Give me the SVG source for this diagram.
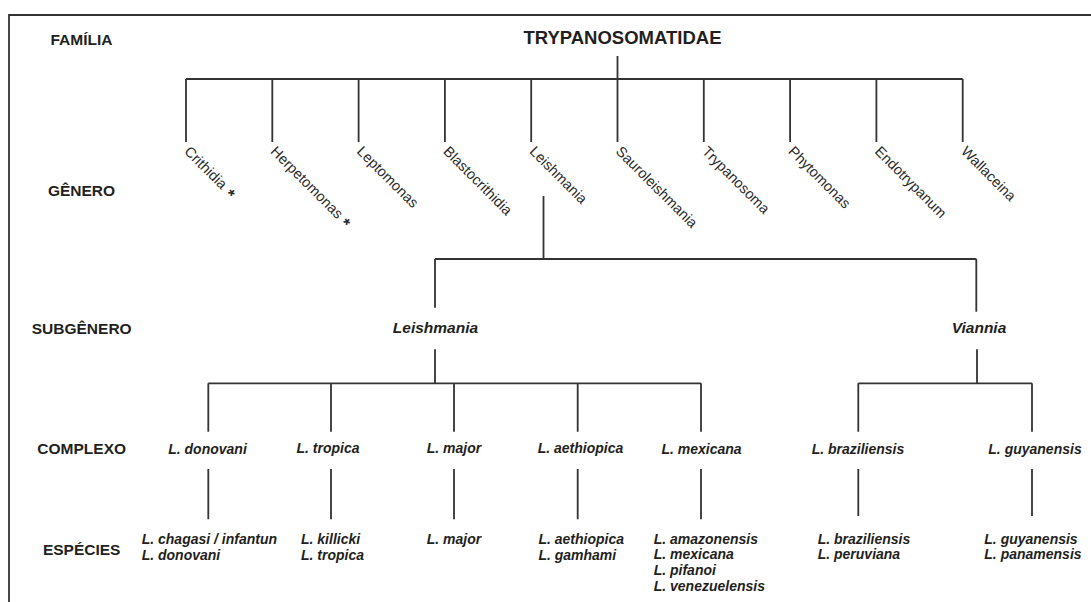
<svg xmlns="http://www.w3.org/2000/svg" width="1091" height="602" viewBox="0 0 1091 602">
<style>
.ln{stroke:#333;stroke-width:1.8;fill:none;stroke-linecap:butt}
.rank{font-family:"Liberation Sans",Arial,sans-serif;font-weight:bold;font-size:15.5px;fill:#231f20;text-anchor:middle}
.fam{font-family:"Liberation Sans",Arial,sans-serif;font-weight:bold;font-size:18.5px;fill:#231f20;text-anchor:middle}
.gen{font-family:"Liberation Sans",Arial,sans-serif;font-size:14.5px;fill:#2a2a2a}
.ast{font-size:17px;font-weight:bold}
.sub{font-family:"Liberation Sans",Arial,sans-serif;font-weight:bold;font-style:italic;font-size:15.5px;fill:#231f20;text-anchor:middle}
.cx{font-family:"Liberation Sans",Arial,sans-serif;font-weight:bold;font-style:italic;font-size:14px;fill:#231f20;text-anchor:middle}
.sp{font-family:"Liberation Sans",Arial,sans-serif;font-weight:bold;font-style:italic;font-size:14px;fill:#231f20}
</style>
<rect width="1091" height="602" fill="#fff"/>
<path class="ln" d="M9,602 V15 H1091" stroke-width="1.8"/>

<g id="ranks">
<text class="rank" x="81.5" y="45">FAMÍLIA</text>
<text class="rank" x="81.5" y="196">GÊNERO</text>
<text class="rank" x="81.7" y="334">SUBGÊNERO</text>
<text class="rank" x="81.7" y="454">COMPLEXO</text>
<text class="rank" x="81.7" y="555">ESPÉCIES</text>
</g>

<g id="connectors">
<path class="ln" d="M617.5,56 V79 M186,79 H962.7"/>
<path class="ln" d="M186,79 V142 M272.3,79 V142 M358.6,79 V142 M444.9,79 V142 M531.2,79 V142 M617.5,79 V142 M703.8,79 V142 M790.1,79 V142 M876.4,79 V142 M962.7,79 V142"/>
<path class="ln" d="M543.5,196 V259 M435,259 H976.3 M435,259 V307.7 M976.3,259 V311.7"/>
<path class="ln" d="M435,349.3 V383.3 M208.3,383.3 H701 M208.3,383.3 V431.7 M331,383.3 V431.7 M454,383.3 V431.7 M577.7,383.3 V431.7 M701,383.3 V431.7"/>
<path class="ln" d="M977,349.3 V383.3 M858.3,383.3 H1032 M858.3,383.3 V431.7 M1032,383.3 V431.7"/>
<path class="ln" d="M208.3,469 V519.3 M331,469 V519.3 M454,469 V519.3 M577.7,469 V519.3 M701,469 V519.3 M858.3,469 V516 M1032,469 V516"/>
</g>

<g id="familia"><text class="fam" x="622.5" y="44">TRYPANOSOMATIDAE</text></g>

<g id="generos">
<text class="gen" transform="translate(183.5,152.3) rotate(45)">Crithidia <tspan class="ast" dx="2" dy="3">*</tspan></text>
<text class="gen" transform="translate(269.8,152.3) rotate(45)">Herpetomonas <tspan class="ast" dx="1" dy="3">*</tspan></text>
<text class="gen" transform="translate(356.1,152.3) rotate(45)">Leptomonas</text>
<text class="gen" transform="translate(442.4,152.3) rotate(45)">Blastocrithidia</text>
<text class="gen" transform="translate(528.7,152.3) rotate(45)">Leishmania</text>
<text class="gen" transform="translate(615,152.3) rotate(45)">Sauroleishmania</text>
<text class="gen" transform="translate(701.3,152.3) rotate(45)">Trypanosoma</text>
<text class="gen" transform="translate(787.6,152.3) rotate(45)">Phytomonas</text>
<text class="gen" transform="translate(873.9,152.3) rotate(45)">Endotrypanum</text>
<text class="gen" transform="translate(960.2,152.3) rotate(45)">Wallaceina</text>
</g>

<g id="subgenero-leishmania"><text class="sub" x="435.5" y="333">Leishmania</text></g>
<g id="subgenero-viannia"><text class="sub" x="979" y="333">Viannia</text></g>

<g id="complexo-donovani"><text class="cx" x="207.5" y="453.5">L. donovani</text>
<text class="sp" x="141.7" y="544">L. chagasi / infantun</text><text class="sp" x="141.7" y="559.5">L. donovani</text></g>
<g id="complexo-tropica"><text class="cx" x="328" y="453">L. tropica</text>
<text class="sp" x="301" y="544">L. killicki</text><text class="sp" x="301" y="559.5">L. tropica</text></g>
<g id="complexo-major"><text class="cx" x="454" y="452.5">L. major</text>
<text class="sp" x="426.7" y="544">L. major</text></g>
<g id="complexo-aethiopica"><text class="cx" x="580.5" y="453">L. aethiopica</text>
<text class="sp" x="538.4" y="544">L. aethiopica</text><text class="sp" x="538.4" y="559.5">L. gamhami</text></g>
<g id="complexo-mexicana"><text class="cx" x="701.5" y="453.5">L. mexicana</text>
<text class="sp" x="653.7" y="543.5">L. amazonensis</text><text class="sp" x="653.7" y="559.3">L. mexicana</text><text class="sp" x="653.7" y="575">L. pifanoi</text><text class="sp" x="653.7" y="590.7">L. venezuelensis</text></g>
<g id="complexo-braziliensis"><text class="cx" x="858" y="454">L. braziliensis</text>
<text class="sp" x="817.7" y="543.5">L. braziliensis</text><text class="sp" x="817.7" y="559.3">L. peruviana</text></g>
<g id="complexo-guyanensis"><text class="cx" x="1035" y="453.5">L. guyanensis</text>
<text class="sp" x="984.3" y="543.5">L. guyanensis</text><text class="sp" x="984.3" y="559.3">L. panamensis</text></g>
</svg>
